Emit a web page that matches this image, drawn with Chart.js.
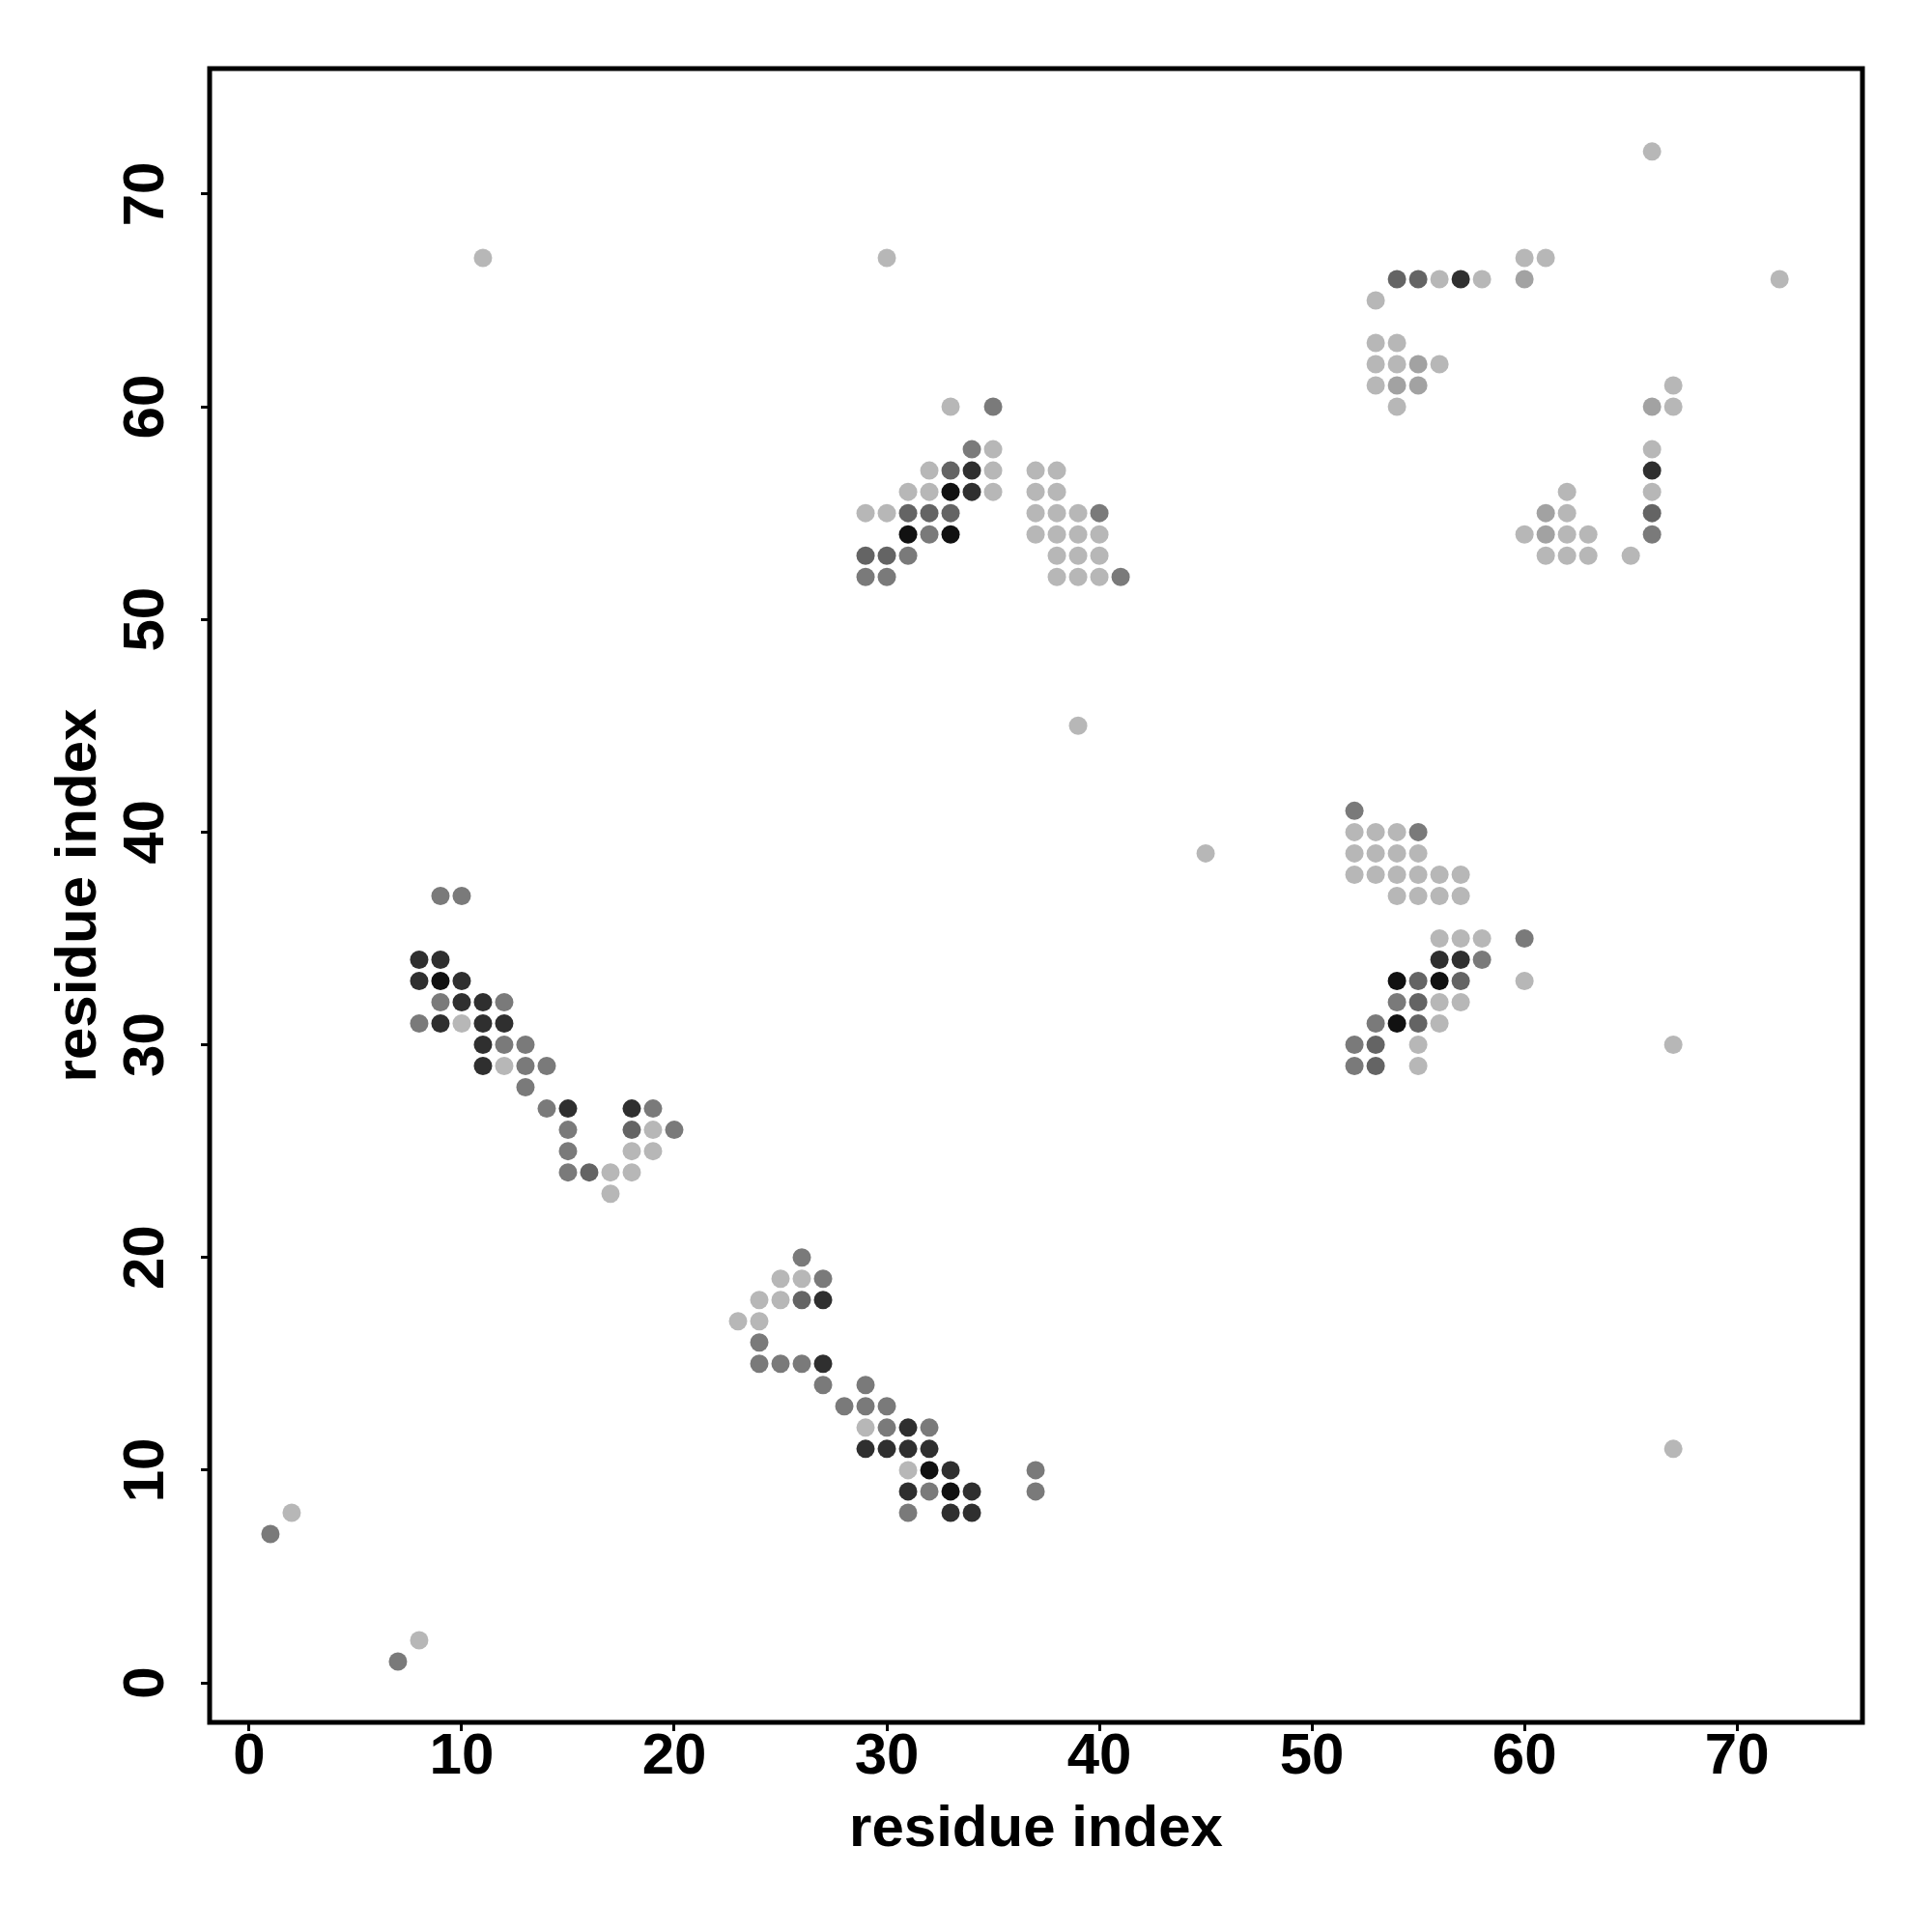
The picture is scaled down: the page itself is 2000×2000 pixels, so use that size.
<!DOCTYPE html>
<html>
<head>
<meta charset="utf-8">
<title>residue contacts</title>
<script src="https://cdn.jsdelivr.net/npm/chart.js@4.4.1/dist/chart.umd.min.js"></script>
<style>
  html, body { margin: 0; padding: 0; background: #fff; }
  canvas { display: block; }
</style>
</head>
<body>
<canvas id="contact-map" width="2000" height="2000"></canvas>
<script>
// contact pairs [i, j] grouped by grey level (lightest -> darkest)
const lightPairs = [
  [11, 67], [30, 67], [39, 45], [45, 39], [67, 30], [67, 11], [2, 8], [8, 2],
  [33, 60], [35, 58], [32, 57], [35, 57], [37, 57], [38, 57], [31, 56], [32, 56], [35, 56], [37, 56], [38, 56],
  [29, 55], [30, 55], [37, 55], [38, 55], [39, 55], [37, 54], [38, 54], [39, 54], [40, 54],
  [38, 53], [39, 53], [40, 53], [38, 52], [39, 52], [40, 52],
  [66, 72], [60, 67], [61, 67], [56, 66], [58, 66], [72, 66], [53, 65], [53, 63], [54, 63],
  [53, 62], [54, 62], [56, 62], [53, 61], [67, 61], [54, 60], [67, 60], [66, 58], [66, 56], [62, 56],
  [62, 55], [60, 54], [62, 54], [63, 54], [61, 53], [62, 53], [63, 53], [65, 53],
  [52, 40], [53, 40], [54, 40], [52, 39], [53, 39], [54, 39], [55, 39],
  [52, 38], [53, 38], [54, 38], [55, 38], [56, 38], [57, 38], [54, 37], [55, 37], [56, 37], [57, 37],
  [56, 35], [57, 35], [58, 35], [60, 33], [56, 32], [57, 32], [56, 31], [55, 30], [55, 29],
  [10, 31], [12, 29], [19, 26], [18, 25], [19, 25], [17, 24], [18, 24], [17, 23],
  [25, 19], [26, 19], [24, 18], [25, 18], [23, 17], [24, 17], [29, 12], [31, 10]
];
const paleGreyPairs = [
  [55, 62], [54, 61], [55, 61], [61, 55], [61, 54], [60, 66], [66, 60]
];
const midPairs = [
  [35, 60], [34, 58], [40, 55], [32, 54], [31, 53], [29, 52], [30, 52], [41, 52], [66, 54],
  [52, 41], [55, 40], [60, 35], [58, 34], [54, 32], [53, 31], [52, 30], [52, 29],
  [9, 37], [10, 37], [9, 32], [12, 32], [8, 31], [12, 30], [13, 30], [13, 29], [14, 29], [13, 28],
  [14, 27], [19, 27], [15, 26], [20, 26], [15, 25], [15, 24],
  [26, 20], [27, 19], [24, 16], [24, 15], [25, 15], [26, 15], [27, 14], [29, 14],
  [28, 13], [29, 13], [30, 13], [30, 12], [32, 12], [32, 9], [31, 8], [37, 10], [37, 9],
  [1, 7], [7, 1]
];
const darkGreyPairs = [
  [33, 57], [31, 55], [32, 55], [33, 55], [29, 53], [30, 53],
  [54, 66], [55, 66], [66, 55],
  [55, 33], [57, 33], [55, 32], [55, 31], [53, 30], [53, 29],
  [18, 26], [16, 24], [26, 18]
];
const darkPairs = [
  [34, 57], [34, 56], [57, 66], [66, 57], [56, 34], [57, 34],
  [8, 34], [9, 34], [8, 33], [10, 33], [10, 32], [11, 32], [9, 31], [11, 31], [12, 31], [11, 30], [11, 29],
  [15, 27], [18, 27],
  [27, 18], [27, 15], [31, 12], [29, 11], [30, 11], [31, 11], [32, 11], [33, 10], [31, 9], [34, 9], [33, 8], [34, 8]
];
const blackPairs = [
  [33, 56], [31, 54], [33, 54], [54, 33], [56, 33], [54, 31], [9, 33], [32, 10], [33, 9]
];

const groups = [
  { pairs: lightPairs,    color: '#b7b7b7' },
  { pairs: paleGreyPairs, color: '#a2a2a2' },
  { pairs: midPairs,      color: '#7a7a7a' },
  { pairs: darkGreyPairs, color: '#646464' },
  { pairs: darkPairs,     color: '#2f2f2f' },
  { pairs: blackPairs,    color: '#111111' }
];

const tickValues = [0, 10, 20, 30, 40, 50, 60, 70];
const axisMin = -1.86;
const axisMax = 75.9;

const FONT = 'Liberation Sans, Arial, Helvetica, sans-serif';

// R-style closed box around the plot region
const frameBox = {
  id: 'frameBox',
  afterDatasetsDraw(chart) {
    const { ctx, chartArea: a } = chart;
    ctx.save();
    ctx.strokeStyle = '#000';
    ctx.lineWidth = 5;
    ctx.strokeRect(a.left, a.top, a.right - a.left, a.bottom - a.top);
    ctx.restore();
  }
};

const axisCommon = {
  type: 'linear',
  min: axisMin,
  max: axisMax,
  afterBuildTicks: (scale) => { scale.ticks = tickValues.map(v => ({ value: v })); },
  border: { display: false },
  grid: {
    drawOnChartArea: false,
    drawTicks: true,
    tickLength: 9,
    tickWidth: 3,
    tickColor: '#000'
  }
};

new Chart(document.getElementById('contact-map'), {
  type: 'scatter',
  data: {
    datasets: groups.map(g => ({
      data: g.pairs.map(([x, y]) => ({ x, y })),
      backgroundColor: g.color,
      borderWidth: 0,
      pointRadius: 9.5,
      pointHoverRadius: 9.5
    }))
  },
  options: {
    responsive: false,
    animation: false,
    devicePixelRatio: 1,
    layout: { padding: { left: 0, top: 71, right: 72, bottom: 0 } },
    plugins: {
      legend: { display: false },
      tooltip: { enabled: false }
    },
    scales: {
      x: {
        ...axisCommon,
        position: 'bottom',
        afterFit: (scale) => { scale.height = 217; },
        ticks: {
          autoSkip: false,
          maxRotation: 0,
          padding: -3,
          color: '#000',
          font: { family: FONT, size: 60, weight: 'bold', lineHeight: 1 }
        },
        title: {
          display: true,
          text: 'residue index',
          color: '#000',
          padding: { top: 0, bottom: 70 },
          font: { family: FONT, size: 60, weight: 'bold' }
        }
      },
      y: {
        ...axisCommon,
        position: 'left',
        afterFit: (scale) => { scale.width = 217; },
        ticks: {
          autoSkip: false,
          minRotation: 90,
          maxRotation: 90,
          crossAlign: 'center',
          padding: 22,
          color: '#000',
          font: { family: FONT, size: 60, weight: 'bold', lineHeight: 1 }
        },
        title: {
          display: true,
          text: 'residue index',
          color: '#000',
          padding: { top: 46, bottom: 0 },
          font: { family: FONT, size: 60, weight: 'bold' }
        }
      }
    }
  },
  plugins: [frameBox]
});
</script>
</body>
</html>
